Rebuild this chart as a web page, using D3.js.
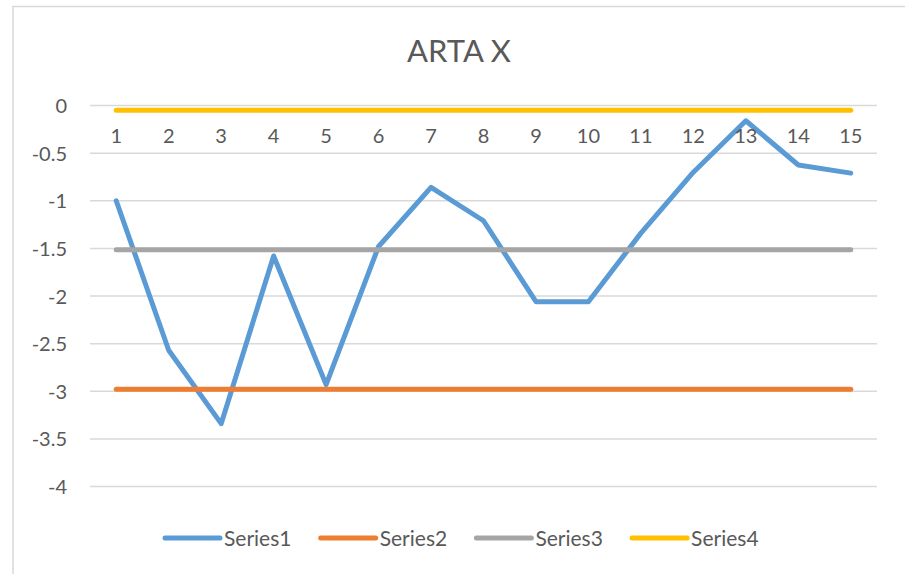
<!DOCTYPE html>
<html>
<head>
<meta charset="utf-8">
<script src="https://cdn.jsdelivr.net/npm/d3@7"></script>
<style>
  body { margin: 0; background: #fff; }
  text { font-family: Lato, "Open Sans", sans-serif; fill: #595959; }
</style>
</head>
<body>
<div id="chart"></div>
<script>
var categories = ["1", "2", "3", "4", "5", "6", "7", "8", "9", "10", "11", "12", "13", "14", "15"];
var series1 = [-1.0, -2.57, -3.34, -1.58, -2.93, -1.48, -0.86, -1.21, -2.06, -2.06, -1.34, -0.7, -0.16, -0.625, -0.71];
var series2 = [-2.98, -2.98, -2.98, -2.98, -2.98, -2.98, -2.98, -2.98, -2.98, -2.98, -2.98, -2.98, -2.98, -2.98, -2.98];
var series3 = [-1.515, -1.515, -1.515, -1.515, -1.515, -1.515, -1.515, -1.515, -1.515, -1.515, -1.515, -1.515, -1.515, -1.515, -1.515];
var series4 = [-0.05, -0.05, -0.05, -0.05, -0.05, -0.05, -0.05, -0.05, -0.05, -0.05, -0.05, -0.05, -0.05, -0.05, -0.05];
var seriesNames = ["Series1", "Series2", "Series3", "Series4"];
var yTicks = [0, -0.5, -1, -1.5, -2, -2.5, -3, -3.5, -4];
var title = "ARTA X";

var width = 905;
var height = 574;
var colors = ["#5b9bd5", "#ed7d31", "#a5a5a5", "#ffc000"];
var plot = { left: 90, right: 877, top: 105.5, bottom: 486.5 };

var data = [series1, series2, series3, series4].map(function (vals, i) {
  return { name: seriesNames[i], values: vals.map(function (v, j) { return { cat: categories[j], value: v }; }) };
});

var svg = d3.select("#chart").append("svg")
  .attr("width", width)
  .attr("height", height);

/* chart border */
svg.append("rect")
  .attr("x", 13).attr("y", 6.5)
  .attr("width", 1000).attr("height", 1000)
  .attr("fill", "none")
  .attr("stroke", "#d9d9d9")
  .attr("stroke-width", 1.5);

/* Scales */
var xScale = d3.scaleBand()
  .domain(categories)
  .range([plot.left, plot.right]);

var yScale = d3.scaleLinear()
  .domain([-4, 0])
  .range([plot.bottom, plot.top]);

/* Gridlines */
svg.append("g")
  .selectAll("line")
  .data(yTicks).enter()
  .append("line")
  .attr("x1", plot.left).attr("x2", plot.right)
  .attr("y1", d => yScale(d)).attr("y2", d => yScale(d))
  .attr("stroke", "#d9d9d9")
  .attr("stroke-width", 1.5);

/* Y axis */
var yAxis = d3.axisLeft(yScale).tickValues(yTicks).tickSize(0).tickPadding(0)
  .tickFormat(d => d === 0 ? "0" : String(d));
var gy = svg.append("g")
  .attr("transform", "translate(67,0)")
  .call(yAxis);
gy.select(".domain").remove();
gy.selectAll("text").attr("font-size", 20).style("font-family", null).attr("fill", "#595959").attr("dy", "0.35em");

/* Lines - drawn in series order, Series1 at the bottom */
var line = d3.line()
  .x(d => xScale(d.cat) + xScale.bandwidth() / 2)
  .y(d => yScale(d.value));

svg.append("g")
  .selectAll("path")
  .data(data).enter()
  .append("path")
  .attr("d", d => line(d.values))
  .attr("fill", "none")
  .attr("stroke", (d, i) => colors[i])
  .attr("stroke-width", 5)
  .attr("stroke-linecap", "round")
  .attr("stroke-linejoin", "round");

/* X axis at value 0 with labels below */
var xAxis = d3.axisBottom(xScale).tickSize(0).tickPadding(0);
var gx = svg.append("g")
  .attr("transform", `translate(0, ${yScale(0)})`)
  .call(xAxis);
gx.select(".domain").remove();
gx.selectAll("text").attr("font-size", 20).attr("fill", "#595959").attr("y", 37).attr("dy", 0);

/* Title */
svg.append("text")
  .attr("x", 459)
  .attr("y", 62)
  .attr("text-anchor", "middle")
  .attr("font-size", 31)
  .text(title);

/* Legend */
var legend = svg.append("g")
  .selectAll("g")
  .data(seriesNames).enter()
  .append("g")
  .attr("transform", (d, i) => `translate(${165 + i * 155.7}, 538)`);

legend.append("line")
  .attr("x1", 0).attr("x2", 55)
  .attr("stroke", (d, i) => colors[i])
  .attr("stroke-width", 5)
  .attr("stroke-linecap", "round");

legend.append("text")
  .attr("x", 59)
  .attr("dy", "0.36em")
  .attr("font-size", 21)
  .text(d => d);
</script>
</body>
</html>
